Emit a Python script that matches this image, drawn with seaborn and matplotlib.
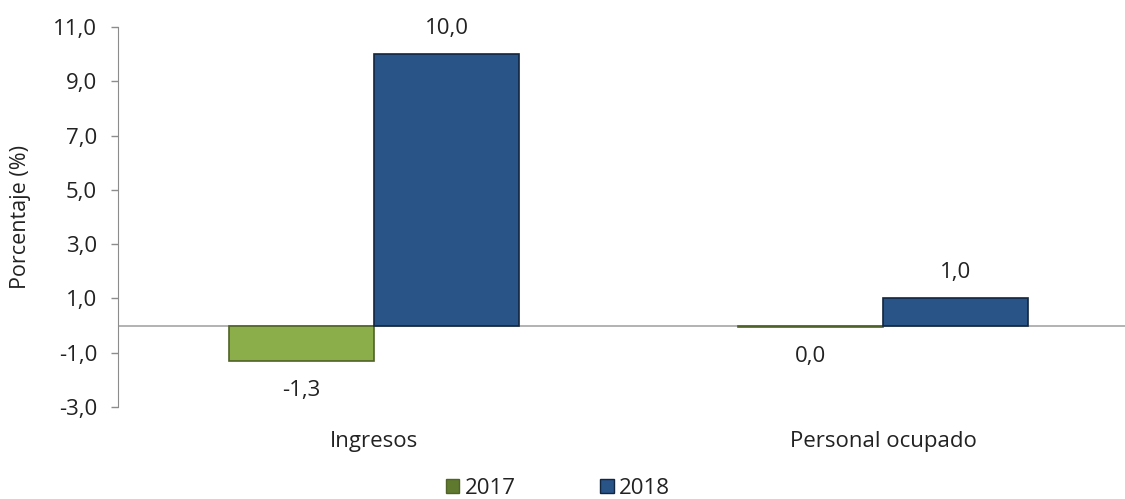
import matplotlib
matplotlib.use("Agg")
import matplotlib.pyplot as plt
import seaborn as sns
import pandas as pd
from matplotlib.patches import Patch

categories = ["Ingresos", "Personal ocupado"]
years = ["2017", "2018"]
values_2017 = [-1.3, -0.04]
values_2018 = [10.0, 1.0]
labels_2017 = ["-1,3", "0,0"]
labels_2018 = ["10,0", "1,0"]
yticks = [-3, -1, 1, 3, 5, 7, 9, 11]

df = pd.DataFrame({
    "cat": categories * 2,
    "year": [years[0]] * 2 + [years[1]] * 2,
    "val": values_2017 + values_2018,
})

sns.set_style("white")
plt.rcParams["font.family"] = ["Open Sans", "DejaVu Sans"]

fig = plt.figure(figsize=(11.25, 4.99), dpi=100)
ax = fig.add_axes([118 / 1125, 92 / 499, (1125 - 118) / 1125, 380 / 499])

green = "#8bad4a"
blue = "#285487"
sns.barplot(data=df, x="cat", y="val", hue="year", palette=[green, blue],
            width=0.57, gap=0, ax=ax, legend=False, saturation=1)

edges = {"2017": "#4f6228", "2018": "#12263f"}
for cont, yr in zip(ax.containers, years):
    for p in cont:
        p.set_edgecolor(edges[yr])
        p.set_linewidth(1.2)

ax.set_ylim(-3, 11)
ax.set_xlim(-0.503, 1.475)
ax.set_yticks(yticks)
ax.set_yticklabels([f"{t:.1f}".replace(".", ",") for t in yticks], fontsize=16, color="#222222")
ax.axhline(0, color="#a6a6a6", lw=1.2, zorder=0.5)
ax.set_xlabel("")
ax.set_ylabel("Porcentaje (%)", fontsize=15.5, color="#222222", labelpad=16)
ax.tick_params(axis="x", length=0, labelsize=16, colors="#222222", pad=17)
ax.tick_params(axis="y", left=True, length=5, width=1, color="#8c8c8c", pad=10)
for s in ["top", "right", "bottom"]:
    ax.spines[s].set_visible(False)
ax.spines["left"].set_color("#8c8c8c")

# value labels
for cont, labs in zip(ax.containers, [labels_2017, labels_2018]):
    for p, lab in zip(cont, labs):
        x = p.get_x() + p.get_width() / 2
        h = p.get_height()
        y = p.get_y() + h
        if h >= 0:
            ax.annotate(lab, (x, y), xytext=(0, 11), textcoords="offset points",
                        ha="center", va="bottom", fontsize=16, color="#222222")
        else:
            ax.annotate(lab, (x, y), xytext=(0, -14),
                        textcoords="offset points", ha="center", va="top",
                        fontsize=16, color="#222222")

handles = [Patch(facecolor="#5f7a2e", edgecolor=edges["2017"]),
           Patch(facecolor=blue, edgecolor=edges["2018"])]
fig.legend(handles, years, loc="center", bbox_to_anchor=(558 / 1125, 1 - 488 / 499),
           ncol=2, frameon=False, fontsize=16, handlelength=0.6, handleheight=0.6,
           columnspacing=3.8, handletextpad=0.25, labelcolor="#222222")

fig.savefig("out.png", dpi=100)
